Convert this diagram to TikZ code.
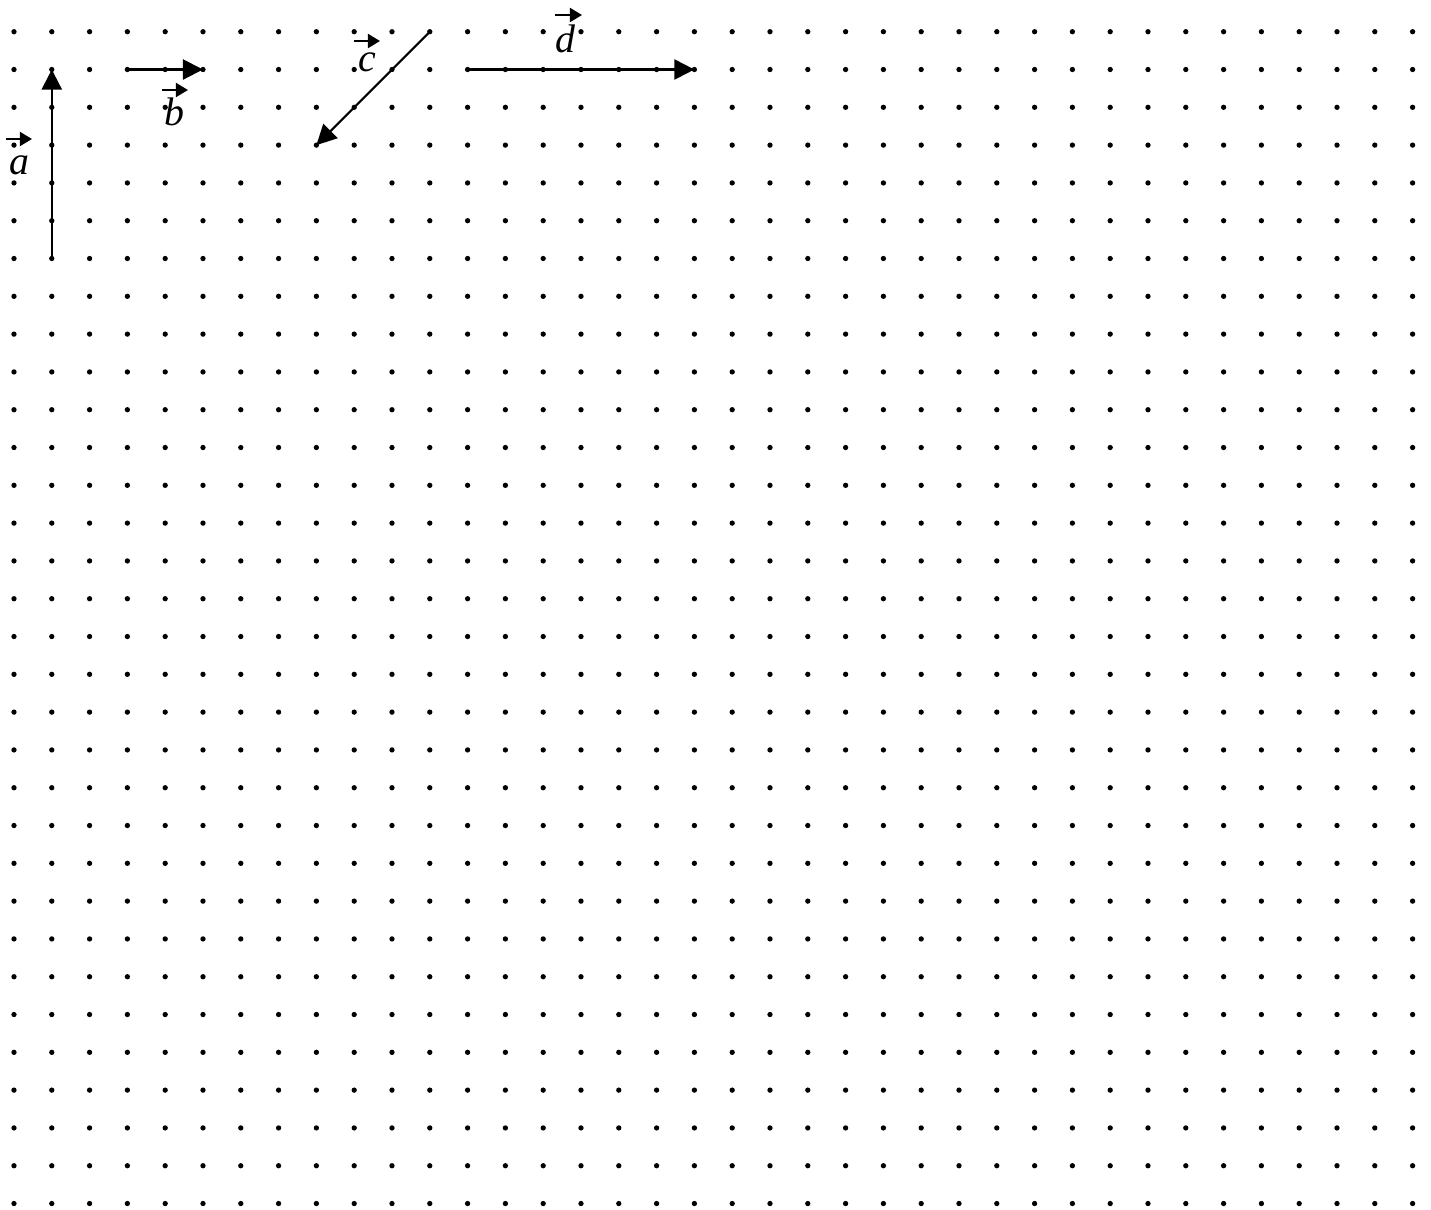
\documentclass[tikz,border=0pt]{standalone}
\usepackage{fontspec}
\setmainfont{Liberation Serif}
\usetikzlibrary{arrows.meta}

\begin{document}
\begin{tikzpicture}[
        vec/.style={black, line width=1.6pt, -{Triangle[length=5.3mm,width=5.3mm]}},
        tag/.style={inner sep=0pt, font=\fontsize{30}{32}\selectfont\itshape},
        tagarrow/.style={black, line width=1.6pt, -{Triangle[length=3.2mm,width=3.7mm]}}]
                \useasboundingbox (-0.370,0.839) rectangle (37.487,-31.146);
                % dot paper
                \foreach \i in {0,...,37}
                    \foreach \j in {0,...,31} {
                        \coordinate (p-\i-\j) at (\i,-\j);
                        \fill [black] (p-\i-\j) circle (2pt);
                    }
                % vectors
                \draw [vec] (p-1-6) -- (p-1-1);
                \draw [vec] (p-3-1) -- (p-5-1);
                \draw [vec] (p-11-0) -- (p-8-3);
                \draw [vec] (p-12-1) -- (p-18-1);
                % labels
                \node [tag] (la) at (0.132,-3.526) {a};
                \draw [tagarrow] ([shift={(-0.344,0.688)}]la.center) -- ([shift={(0.344,0.688)}]la.center);
                \node [tag] (lb) at (4.233,-2.124) {b};
                \draw [tagarrow] ([shift={(-0.317,0.582)}]lb.center) -- ([shift={(0.370,0.582)}]lb.center);
                \node [tag] (lc) at (9.339,-0.802) {c};
                \draw [tagarrow] ([shift={(-0.344,0.556)}]lc.center) -- ([shift={(0.344,0.556)}]lc.center);
                \node [tag] (ld) at (14.577,-0.193) {d};
                \draw [tagarrow] ([shift={(-0.265,0.635)}]ld.center) -- ([shift={(0.450,0.635)}]ld.center);
\end{tikzpicture}
\end{document}
